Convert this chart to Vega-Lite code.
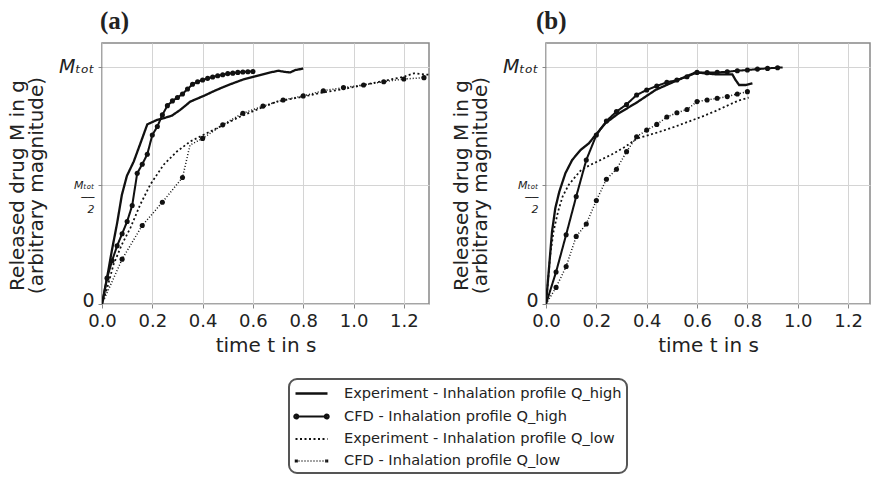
{
  "$schema": "https://vega.github.io/schema/vega-lite/v6.json",
  "background": "white",
  "padding": {"left": 6, "top": 8, "right": 0, "bottom": 0},
  "datasets": {
    "a": [
      {"s":"EH","t":0,"M":0},{"s":"EH","t":0.02,"M":0.11},{"s":"EH","t":0.04,"M":0.23},{"s":"EH","t":0.06,"M":0.34},{"s":"EH","t":0.079,"M":0.46},{"s":"EH","t":0.099,"M":0.54},{"s":"EH","t":0.126,"M":0.6},{"s":"EH","t":0.152,"M":0.675},{"s":"EH","t":0.18,"M":0.757},{"s":"EH","t":0.219,"M":0.776},{"s":"EH","t":0.245,"M":0.783},{"s":"EH","t":0.278,"M":0.794},{"s":"EH","t":0.311,"M":0.818},{"s":"EH","t":0.351,"M":0.853},{"s":"EH","t":0.404,"M":0.877},{"s":"EH","t":0.457,"M":0.903},{"s":"EH","t":0.51,"M":0.926},{"s":"EH","t":0.563,"M":0.947},{"s":"EH","t":0.616,"M":0.961},{"s":"EH","t":0.669,"M":0.976},{"s":"EH","t":0.702,"M":0.983},{"s":"EH","t":0.728,"M":0.978},{"s":"EH","t":0.748,"M":0.976},{"s":"EH","t":0.768,"M":0.986},{"s":"EH","t":0.8,"M":0.992},
      {"s":"CH","t":0,"M":0},{"s":"CH","t":0.02,"M":0.109},{"s":"CH","t":0.04,"M":0.182},{"s":"CH","t":0.06,"M":0.245},{"s":"CH","t":0.08,"M":0.296},{"s":"CH","t":0.1,"M":0.348},{"s":"CH","t":0.12,"M":0.415},{"s":"CH","t":0.14,"M":0.551},{"s":"CH","t":0.16,"M":0.589},{"s":"CH","t":0.18,"M":0.631},{"s":"CH","t":0.2,"M":0.712},{"s":"CH","t":0.22,"M":0.748},{"s":"CH","t":0.24,"M":0.797},{"s":"CH","t":0.26,"M":0.836},{"s":"CH","t":0.28,"M":0.856},{"s":"CH","t":0.3,"M":0.87},{"s":"CH","t":0.32,"M":0.885},{"s":"CH","t":0.34,"M":0.906},{"s":"CH","t":0.36,"M":0.926},{"s":"CH","t":0.38,"M":0.937},{"s":"CH","t":0.4,"M":0.944},{"s":"CH","t":0.42,"M":0.951},{"s":"CH","t":0.44,"M":0.957},{"s":"CH","t":0.46,"M":0.962},{"s":"CH","t":0.48,"M":0.966},{"s":"CH","t":0.5,"M":0.971},{"s":"CH","t":0.52,"M":0.973},{"s":"CH","t":0.54,"M":0.976},{"s":"CH","t":0.56,"M":0.978},{"s":"CH","t":0.58,"M":0.979},{"s":"CH","t":0.6,"M":0.98},
      {"s":"EL","t":0,"M":0},{"s":"EL","t":0.02,"M":0.065},{"s":"EL","t":0.046,"M":0.167},{"s":"EL","t":0.079,"M":0.251},{"s":"EL","t":0.113,"M":0.321},{"s":"EL","t":0.152,"M":0.419},{"s":"EL","t":0.192,"M":0.503},{"s":"EL","t":0.245,"M":0.587},{"s":"EL","t":0.298,"M":0.643},{"s":"EL","t":0.351,"M":0.685},{"s":"EL","t":0.43,"M":0.727},{"s":"EL","t":0.483,"M":0.755},{"s":"EL","t":0.55,"M":0.79},{"s":"EL","t":0.629,"M":0.825},{"s":"EL","t":0.695,"M":0.853},{"s":"EL","t":0.76,"M":0.866},{"s":"EL","t":0.8,"M":0.874},{"s":"EL","t":0.88,"M":0.892},{"s":"EL","t":0.96,"M":0.906},{"s":"EL","t":1.04,"M":0.923},{"s":"EL","t":1.12,"M":0.94},{"s":"EL","t":1.2,"M":0.958},{"s":"EL","t":1.24,"M":0.972},{"s":"EL","t":1.3,"M":0.966},
      {"s":"CL","t":0,"M":0},{"s":"CL","t":0.08,"M":0.189},{"s":"CL","t":0.16,"M":0.331},{"s":"CL","t":0.24,"M":0.429},{"s":"CL","t":0.32,"M":0.533},{"s":"CL","t":0.35,"M":0.67},{"s":"CL","t":0.4,"M":0.698},{"s":"CL","t":0.48,"M":0.755},{"s":"CL","t":0.56,"M":0.804},{"s":"CL","t":0.64,"M":0.834},{"s":"CL","t":0.72,"M":0.86},{"s":"CL","t":0.8,"M":0.877},{"s":"CL","t":0.88,"M":0.899},{"s":"CL","t":0.96,"M":0.912},{"s":"CL","t":1.04,"M":0.923},{"s":"CL","t":1.12,"M":0.937},{"s":"CL","t":1.2,"M":0.948},{"s":"CL","t":1.28,"M":0.954}
    ],
    "b": [
      {"s":"EH","t":0,"M":0},{"s":"EH","t":0.013,"M":0.165},{"s":"EH","t":0.024,"M":0.306},{"s":"EH","t":0.037,"M":0.404},{"s":"EH","t":0.053,"M":0.474},{"s":"EH","t":0.077,"M":0.551},{"s":"EH","t":0.104,"M":0.607},{"s":"EH","t":0.137,"M":0.649},{"s":"EH","t":0.17,"M":0.677},{"s":"EH","t":0.199,"M":0.715},{"s":"EH","t":0.236,"M":0.762},{"s":"EH","t":0.289,"M":0.804},{"s":"EH","t":0.356,"M":0.846},{"s":"EH","t":0.435,"M":0.902},{"s":"EH","t":0.515,"M":0.94},{"s":"EH","t":0.594,"M":0.976},{"s":"EH","t":0.674,"M":0.968},{"s":"EH","t":0.74,"M":0.968},{"s":"EH","t":0.753,"M":0.944},{"s":"EH","t":0.767,"M":0.923},{"s":"EH","t":0.793,"M":0.923},{"s":"EH","t":0.82,"M":0.93},
      {"s":"CH","t":0,"M":0},{"s":"CH","t":0.04,"M":0.135},{"s":"CH","t":0.08,"M":0.292},{"s":"CH","t":0.12,"M":0.453},{"s":"CH","t":0.16,"M":0.607},{"s":"CH","t":0.2,"M":0.712},{"s":"CH","t":0.24,"M":0.771},{"s":"CH","t":0.28,"M":0.811},{"s":"CH","t":0.32,"M":0.841},{"s":"CH","t":0.36,"M":0.881},{"s":"CH","t":0.4,"M":0.902},{"s":"CH","t":0.44,"M":0.919},{"s":"CH","t":0.48,"M":0.934},{"s":"CH","t":0.52,"M":0.944},{"s":"CH","t":0.56,"M":0.958},{"s":"CH","t":0.6,"M":0.976},{"s":"CH","t":0.64,"M":0.975},{"s":"CH","t":0.68,"M":0.976},{"s":"CH","t":0.72,"M":0.979},{"s":"CH","t":0.76,"M":0.983},{"s":"CH","t":0.8,"M":0.986},{"s":"CH","t":0.84,"M":0.99},{"s":"CH","t":0.88,"M":0.993},{"s":"CH","t":0.92,"M":0.996},{"s":"CH","t":0.94,"M":0.997},
      {"s":"EL","t":0,"M":0},{"s":"EL","t":0.008,"M":0.095},{"s":"EL","t":0.017,"M":0.208},{"s":"EL","t":0.03,"M":0.306},{"s":"EL","t":0.048,"M":0.39},{"s":"EL","t":0.066,"M":0.453},{"s":"EL","t":0.09,"M":0.502},{"s":"EL","t":0.117,"M":0.537},{"s":"EL","t":0.14,"M":0.565},{"s":"EL","t":0.17,"M":0.583},{"s":"EL","t":0.209,"M":0.603},{"s":"EL","t":0.262,"M":0.631},{"s":"EL","t":0.315,"M":0.663},{"s":"EL","t":0.362,"M":0.698},{"s":"EL","t":0.408,"M":0.712},{"s":"EL","t":0.461,"M":0.729},{"s":"EL","t":0.514,"M":0.748},{"s":"EL","t":0.567,"M":0.769},{"s":"EL","t":0.62,"M":0.79},{"s":"EL","t":0.673,"M":0.813},{"s":"EL","t":0.726,"M":0.839},{"s":"EL","t":0.766,"M":0.858},{"s":"EL","t":0.805,"M":0.87},
      {"s":"CL","t":0,"M":0},{"s":"CL","t":0.04,"M":0.07},{"s":"CL","t":0.08,"M":0.158},{"s":"CL","t":0.12,"M":0.285},{"s":"CL","t":0.16,"M":0.337},{"s":"CL","t":0.2,"M":0.436},{"s":"CL","t":0.24,"M":0.526},{"s":"CL","t":0.28,"M":0.568},{"s":"CL","t":0.32,"M":0.642},{"s":"CL","t":0.36,"M":0.705},{"s":"CL","t":0.4,"M":0.733},{"s":"CL","t":0.44,"M":0.757},{"s":"CL","t":0.48,"M":0.788},{"s":"CL","t":0.52,"M":0.806},{"s":"CL","t":0.56,"M":0.82},{"s":"CL","t":0.6,"M":0.853},{"s":"CL","t":0.64,"M":0.86},{"s":"CL","t":0.68,"M":0.867},{"s":"CL","t":0.72,"M":0.874},{"s":"CL","t":0.76,"M":0.885},{"s":"CL","t":0.8,"M":0.895}
    ]
  },
  "config": {
    "view": {"stroke": "#888", "strokeWidth": 1.5},
    "font": "DejaVu Sans",
    "axis": {"gridColor": "#d4d4d4", "gridWidth": 1, "domain": false, "tickColor": "#888", "tickSize": 4, "labelColor": "#222", "titleColor": "#222", "labelFont": "DejaVu Sans", "titleFont": "DejaVu Sans", "titleFontWeight": "normal"},
    "legend": {"strokeWidth": 2}
  },
  "spacing": 20,
  "hconcat": [
    {
      "width": 327,
      "height": 261,
      "title": {"text": "(a)", "anchor": "start", "frame": "group", "font": "Liberation Serif", "fontWeight": "bold", "fontSize": 25, "offset": 9, "dx": -2, "color": "#222"},
      "data": {"name": "a"},
      "layer": [
        {
          "mark": {"type": "line", "color": "#111", "clip": true},
          "encoding": {
            "x": {"field": "t", "type": "quantitative", "scale": {"domain": [0, 1.3], "nice": false},
                  "axis": {"values": [0, 0.2, 0.4, 0.6, 0.8, 1.0, 1.2], "format": ".1f", "labelFontSize": 18, "labelPadding": 4, "labelFlush": false, "title": "time t in s", "titleFontSize": 20, "titlePadding": 5}},
            "y": {"field": "M", "type": "quantitative", "scale": {"domain": [0, 1.1], "nice": false},
                  "axis": {"values": [0, 0.5, 1], "title": ["Released drug M in g", "(arbitrary magnitude)"], "titleFontSize": 20, "titleLineHeight": 19, "titlePadding": 12, "titleY": 142,
                           "labelExpr": "datum.value == 1 ? 'Mₜₒₜ' : datum.value == 0.5 ? ['Mₜₒₜ','──','2'] : '0'",
                           "labelFontSize": {"condition": {"test": "datum.value == 0.5", "value": 11}, "value": 19},
                           "labelFontStyle": {"condition": {"test": "datum.value == 0", "value": "normal"}, "value": "italic"},
                           "labelOffset": {"condition": {"test": "datum.value == 0", "value": -4}, "value": 0},
                           "labelLineHeight": 12, "labelPadding": 4}},
            "strokeDash": {"field": "s", "type": "nominal", "scale": {"domain": ["EH", "CH", "EL", "CL"], "range": [[1, 0], [1, 0], [2, 2.5], [1, 2]]},
                           "legend": {"title": null, "orient": "none", "legendX": 187, "legendY": 336, "direction": "vertical",
                                      "labelExpr": "datum.value == 'EH' ? 'Experiment - Inhalation profile Q_high' : datum.value == 'CH' ? 'CFD - Inhalation profile Q_high' : datum.value == 'EL' ? 'Experiment - Inhalation profile Q_low' : 'CFD - Inhalation profile Q_low'",
                                      "labelFontSize": 14.6, "labelFont": "DejaVu Sans", "labelColor": "#222", "labelLimit": 400,
                                      "symbolSize": 256, "symbolOffset": 8, "labelOffset": 23, "rowPadding": 6, "padding": 5,
                                      "symbolStrokeWidth": 1.6, "symbolStrokeColor": "#111",
                                      "strokeColor": "#555", "cornerRadius": 8, "fillColor": "white"}},
            "strokeWidth": {"field": "s", "type": "nominal", "scale": {"domain": ["EH", "CH", "EL", "CL"], "range": [2.3, 1.5, 2.6, 1.2]}, "legend": null}
          }
        },
        {
          "transform": [{"filter": "false"}],
          "mark": {"type": "point", "filled": false, "color": "#111", "strokeWidth": 1.6, "opacity": 1},
          "encoding": {
            "x": {"field": "t", "type": "quantitative"},
            "y": {"field": "M", "type": "quantitative"},
            "shape": {"field": "s", "type": "nominal",
                      "scale": {"domain": ["EH", "CH", "EL", "CL"], "range": [
                        "M-2,0H2",
                        "M-2,0H2M-2.15,0a0.25,0.25 0 1,0 0.5,0a0.25,0.25 0 1,0 -0.5,0M1.65,0a0.25,0.25 0 1,0 0.5,0a0.25,0.25 0 1,0 -0.5,0",
                        "M-2,0H2",
                        "M-2,0H2M-2,-0.2v0.1M-2,-0.1v0.1M-2,0v0.1M-2,0.1v0.1M-1.8,-0.2v0.1M-1.8,-0.1v0.1M-1.8,0v0.1M-1.8,0.1v0.1M1.8,-0.2v0.1M1.8,-0.1v0.1M1.8,0v0.1M1.8,0.1v0.1M2,-0.2v0.1M2,-0.1v0.1M2,0v0.1M2,0.1v0.1"]},
                      "legend": {"title": null, "orient": "none", "legendX": 187, "legendY": 336, "direction": "vertical",
                                 "labelExpr": "datum.value == 'EH' ? 'Experiment - Inhalation profile Q_high' : datum.value == 'CH' ? 'CFD - Inhalation profile Q_high' : datum.value == 'EL' ? 'Experiment - Inhalation profile Q_low' : 'CFD - Inhalation profile Q_low'",
                                 "labelFontSize": 14.6, "labelFont": "DejaVu Sans", "labelColor": "#222", "labelLimit": 400,
                                 "symbolSize": 256, "symbolOffset": 8, "labelOffset": 23, "rowPadding": 6, "padding": 5,
                                 "symbolStrokeWidth": 1.6, "symbolStrokeColor": "#111",
                                 "strokeColor": "#555", "cornerRadius": 8, "fillColor": "white"}}
          }
        },
        {
          "transform": [{"filter": "(datum.s == 'CH' || (datum.s == 'CL' && datum.t != 0.35)) && datum.t > 0"}],
          "mark": {"type": "circle", "color": "#111", "size": 26, "opacity": 1, "clip": true},
          "encoding": {
            "x": {"field": "t", "type": "quantitative"},
            "y": {"field": "M", "type": "quantitative"}
          }
        }
      ]
    },
    {
      "width": 324,
      "height": 261,
      "title": {"text": "(b)", "anchor": "start", "frame": "group", "font": "Liberation Serif", "fontWeight": "bold", "fontSize": 25, "offset": 9, "dx": -10, "color": "#222"},
      "data": {"name": "b"},
      "layer": [
        {
          "mark": {"type": "line", "color": "#111", "clip": true},
          "encoding": {
            "x": {"field": "t", "type": "quantitative", "scale": {"domain": [0, 1.287], "nice": false},
                  "axis": {"values": [0, 0.2, 0.4, 0.6, 0.8, 1.0, 1.2], "format": ".1f", "labelFontSize": 18, "labelPadding": 4, "labelFlush": false, "title": "time t in s", "titleFontSize": 20, "titlePadding": 5}},
            "y": {"field": "M", "type": "quantitative", "scale": {"domain": [0, 1.1], "nice": false},
                  "axis": {"values": [0, 0.5, 1], "title": ["Released drug M in g", "(arbitrary magnitude)"], "titleFontSize": 20, "titleLineHeight": 19, "titlePadding": 12, "titleY": 142,
                           "labelExpr": "datum.value == 1 ? 'Mₜₒₜ' : datum.value == 0.5 ? ['Mₜₒₜ','──','2'] : '0'",
                           "labelFontSize": {"condition": {"test": "datum.value == 0.5", "value": 11}, "value": 19},
                           "labelFontStyle": {"condition": {"test": "datum.value == 0", "value": "normal"}, "value": "italic"},
                           "labelOffset": {"condition": {"test": "datum.value == 0", "value": -4}, "value": 0},
                           "labelLineHeight": 12, "labelPadding": 4}},
            "strokeDash": {"field": "s", "type": "nominal", "scale": {"domain": ["EH", "CH", "EL", "CL"], "range": [[1, 0], [1, 0], [2, 2.5], [1, 2]]}},
            "strokeWidth": {"field": "s", "type": "nominal", "scale": {"domain": ["EH", "CH", "EL", "CL"], "range": [2.3, 1.5, 2.6, 1.2]}, "legend": null}
          }
        },
        {
          "transform": [{"filter": "((datum.s == 'CH' && datum.t != 0.94) || datum.s == 'CL') && datum.t > 0"}],
          "mark": {"type": "circle", "color": "#111", "size": 26, "opacity": 1, "clip": true},
          "encoding": {
            "x": {"field": "t", "type": "quantitative"},
            "y": {"field": "M", "type": "quantitative"}
          }
        }
      ]
    }
  ]
}
